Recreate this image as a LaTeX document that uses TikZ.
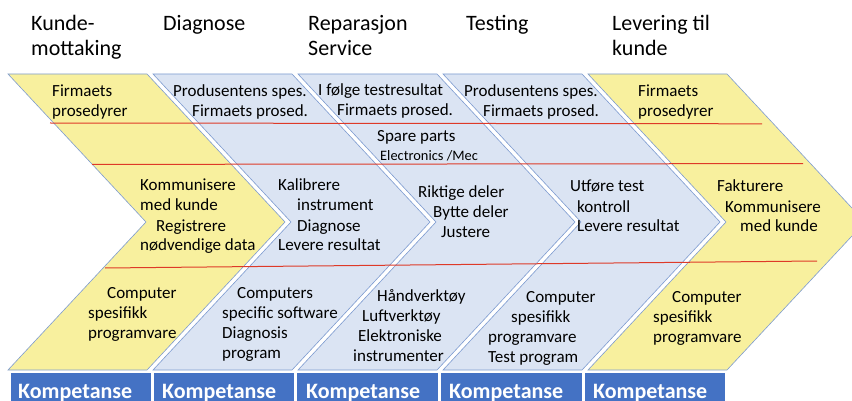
\documentclass[tikz,border=0pt]{standalone}
\usepackage{fontspec}
\setmainfont{Carlito}

\definecolor{chevyel}{RGB}{248,240,158}
\definecolor{chevblu}{RGB}{219,228,243}
\definecolor{chevline}{RGB}{125,155,208}
\definecolor{rulered}{RGB}{222,58,40}
\definecolor{barblue}{RGB}{68,114,196}

\tikzset{
  yelchev/.style={fill=chevyel, draw=chevline, line width=0.6pt},
  bluchev/.style={fill=chevblu, draw=chevline, line width=0.6pt},
  redline/.style={draw=rulered, line width=1pt},
  bartile/.style={fill=barblue, draw=white, line width=0.6pt},
  headtext/.style={anchor=base west, inner sep=0pt, align=left, font=\fontsize{22}{25}\selectfont},
  celltext/.style={anchor=base west, inner sep=0pt, align=left, font=\fontsize{17}{20}\selectfont},
  smalltext/.style={anchor=base west, inner sep=0pt, font=\fontsize{14.4}{16}\selectfont},
  bartext/.style={anchor=base west, inner sep=0pt, text=white, font=\fontsize{22}{24}\selectfont\bfseries}
}

\begin{document}
\begin{tikzpicture}[x=1pt, y=-1pt]
                \fill[white] (0, 0) rectangle (852, 401);
                \clip (0, 0) rectangle (852, 401);

                % chevrons
                \draw[yelchev] (8, 74) -- (147, 74) -- (285, 222) -- (147, 370) -- (8, 370) -- (146, 222) -- cycle;

                \draw[bluchev] (153, 74) -- (292, 74) -- (430, 222) -- (292, 370) -- (153, 370) -- (291, 222) -- cycle;

                \draw[bluchev] (298, 74) -- (437, 74) -- (575, 222) -- (437, 370) -- (298, 370) -- (436, 222) -- cycle;

                \draw[bluchev] (443, 74) -- (582, 74) -- (720, 222) -- (582, 370) -- (443, 370) -- (581, 222) -- cycle;

                \draw[yelchev] (588, 74) -- (727, 74) -- (865, 222) -- (727, 370) -- (588, 370) -- (726, 222) -- cycle;

                % red lines
                \draw[redline] (50, 123) -- (762, 123.8);

                \draw[redline] (92, 164.4) -- (803, 163.6);

                \draw[redline] (105, 268) -- (817, 261);

                % bars
                \draw[bartile] (10, 372) rectangle (151, 405);

                \draw[bartile] (153, 372) rectangle (294, 405);

                \draw[bartile] (296, 372) rectangle (438, 405);

                \draw[bartile] (440, 372) rectangle (582, 405);

                \draw[bartile] (584, 372) rectangle (725, 405);

                \node[bartext] (komp1) at (18, 398) {Kompetanse};
                \node[bartext] (komp2) at (162, 398) {Kompetanse};
                \node[bartext] (komp3) at (306, 398) {Kompetanse};
                \node[bartext] (komp4) at (449, 398) {Kompetanse};
                \node[bartext] (komp5) at (593, 398) {Kompetanse};

                % headers (anchor on last line)
                \node[headtext] (hMottak) at (31, 56) {Kunde-\\mottaking};
                \node[headtext] (hDiagnose) at (163, 31) {Diagnose};
                \node[headtext] (hReparasjon) at (308, 56) {Reparasjon\\Service};
                \node[headtext] (hTesting) at (466, 31) {Testing};
                \node[headtext] (hLevering) at (612, 56) {Levering til\\kunde};

                % top row
                \node[celltext] (prosA) at (52, 117) {Firmaets\\prosedyrer};
                \node[celltext] (spesB) at (173, 117) {Produsentens spes.\\\hspace*{19pt}Firmaets prosed.};
                \node[celltext] (testC) at (318, 116) {I følge testresultat\\\hspace*{19pt}Firmaets prosed.};
                \node[celltext] (spesD) at (464, 117) {Produsentens spes.\\\hspace*{19pt}Firmaets prosed.};
                \node[celltext] (prosE) at (638, 117) {Firmaets\\prosedyrer};

                \node[celltext] (spare) at (377, 142) {Spare parts};
                \node[smalltext] (elmec) at (380, 161) {Electronics /Mec};

                % middle row
                \node[celltext] (kommA) at (140, 251) {Kommunisere\\med kunde\\\hspace*{16pt}Registrere\\nødvendige data};
                \node[celltext] (kaliB) at (278, 251) {Kalibrere\\\hspace*{19pt}instrument\\\hspace*{19pt}Diagnose\\Levere resultat};
                \node[celltext] (delerC) at (418, 237) {Riktige deler\\\hspace*{15pt}Bytte deler\\\hspace*{23pt}Justere};
                \node[celltext] (utforD) at (570, 232) {Utføre test\\\hspace*{7pt}kontroll\\\hspace*{7pt}Levere resultat};
                \node[celltext] (faktE) at (717, 232) {Fakturere\\\hspace*{8pt}Kommunisere\\\hspace*{23pt}med kunde};

                % bottom row
                \node[celltext] (compA) at (88, 338) {\hspace*{19pt}Computer\\spesifikk\\programvare};
                \node[celltext] (compB) at (222, 358) {\hspace*{15pt}Computers\\specific software\\Diagnosis\\program};
                \node[celltext] (verkC) at (353, 361) {\hspace*{24pt}Håndverktøy\\\hspace*{9pt}Luftverktøy\\\hspace*{5pt}Elektroniske\\instrumenter};
                \node[celltext] (compD) at (488, 362) {\hspace*{38pt}Computer\\\hspace*{23pt}spesifikk\\programvare\\Test program};
                \node[celltext] (compE) at (653, 342) {\hspace*{19pt}Computer\\spesifikk\\programvare};
            \end{tikzpicture}
\end{document}
